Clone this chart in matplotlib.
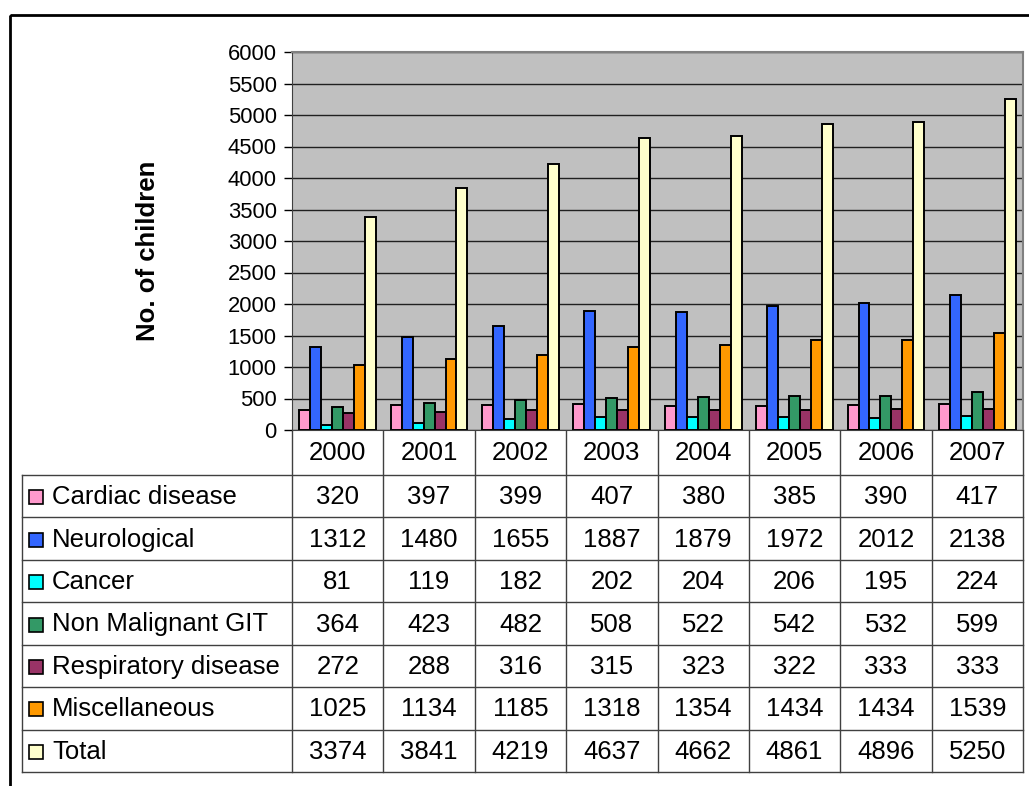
import matplotlib
matplotlib.use("Agg")
import matplotlib.pyplot as plt
import matplotlib.transforms as mtransforms
from matplotlib.patches import Rectangle
import numpy as np

plt.rcParams['font.family'] = ['Liberation Sans', 'DejaVu Sans']

# ---- data
years = ['2000', '2001', '2002', '2003', '2004', '2005', '2006', '2007']
series_names = ['Cardiac disease', 'Neurological', 'Cancer', 'Non Malignant GIT',
                'Respiratory disease', 'Miscellaneous', 'Total']
cardiac = [320, 397, 399, 407, 380, 385, 390, 417]
neuro = [1312, 1480, 1655, 1887, 1879, 1972, 2012, 2138]
cancer = [81, 119, 182, 202, 204, 206, 195, 224]
git = [364, 423, 482, 508, 522, 542, 532, 599]
resp = [272, 288, 316, 315, 323, 322, 333, 333]
misc = [1025, 1134, 1185, 1318, 1354, 1434, 1434, 1539]
total = [3374, 3841, 4219, 4637, 4662, 4861, 4896, 5250]
colors = ['#FF99CC', '#3366FF', '#00FFFF', '#339966', '#993366', '#FF9900', '#FFFFCC']

all_series = [cardiac, neuro, cancer, git, resp, misc, total]

W, H = 1029, 786
fig = plt.figure(figsize=(W / 100, H / 100), dpi=100)

# overlay in pixel coordinates for frame and table
ov = fig.add_axes([0, 0, 1, 1])
ov.set_xlim(0, W)
ov.set_ylim(H, 0)
ov.axis('off')

# plot area
px0, px1, py0, py1 = 292, 1023, 52, 430
ax = fig.add_axes([px0 / W, (H - py1) / H, (px1 - px0) / W, (py1 - py0) / H])
ax.set_facecolor('#C0C0C0')
x = np.arange(len(years))
bw = 0.12
for k, (vals, col) in enumerate(zip(all_series, colors)):
    off = (k - 3) * bw
    ax.bar(x + off, vals, width=bw, color=col, edgecolor='black', linewidth=1.4, zorder=3)
ax.set_xlim(-0.5, len(years) - 0.5)
ax.set_ylim(0, 6000)
ax.set_yticks(np.arange(0, 6001, 500))
ax.tick_params(axis='y', labelsize=15.8, length=6, width=1, direction='out', pad=5)
ax.set_xticks([])
ax.yaxis.grid(True, color='#202020', linewidth=1, zorder=1)
for s in ['top', 'right']:
    ax.spines[s].set_color('#808080')
    ax.spines[s].set_linewidth(1.5)
ax.spines['left'].set_color('#404040')
ax.spines['bottom'].set_color('#404040')

ov.text(148, 251, 'No. of children', rotation=90, ha='center', va='center',
        fontsize=18.5, fontweight='bold')

# outer frame
ov.add_patch(Rectangle((9.5, 14.5), W + 20, H + 20, fill=False, edgecolor='black',
                       linewidth=2, clip_on=False))

# data table under the chart, columns follow the category axis
tr = mtransforms.blended_transform_factory(ax.transData, ov.transData)
line_c = '#404040'
head_bot = 475
row_h = (772 - head_bot) / len(series_names)
tbl_bot = head_bot + row_h * len(series_names)
tbl_left = 22
fs = 18.5

# vertical column boundaries
for i in range(len(years) + 1):
    ov.plot([i - 0.5, i - 0.5], [py1, tbl_bot], color=line_c, lw=1, transform=tr)
ov.plot([tbl_left, tbl_left], [head_bot, tbl_bot], color=line_c, lw=1)
# horizontal row lines
for r in range(len(series_names) + 1):
    yy = head_bot + r * row_h
    ov.plot([tbl_left, px1], [yy, yy], color=line_c, lw=1)

for i, yr in enumerate(years):
    ov.text(i, (py1 + head_bot) / 2 + 1, yr, transform=tr, ha='center', va='center', fontsize=fs)

for r, (name, vals, col) in enumerate(zip(series_names, all_series, colors)):
    yc = head_bot + (r + 0.5) * row_h
    ov.add_patch(Rectangle((29, yc - 6), 14, 14, facecolor=col, edgecolor='black', lw=1.2))
    ov.text(52, yc + 1, name, ha='left', va='center', fontsize=fs)
    for i, v in enumerate(vals):
        ov.text(i, yc + 1, str(v), transform=tr, ha='center', va='center', fontsize=fs)

fig.savefig('out.png', dpi=100)
